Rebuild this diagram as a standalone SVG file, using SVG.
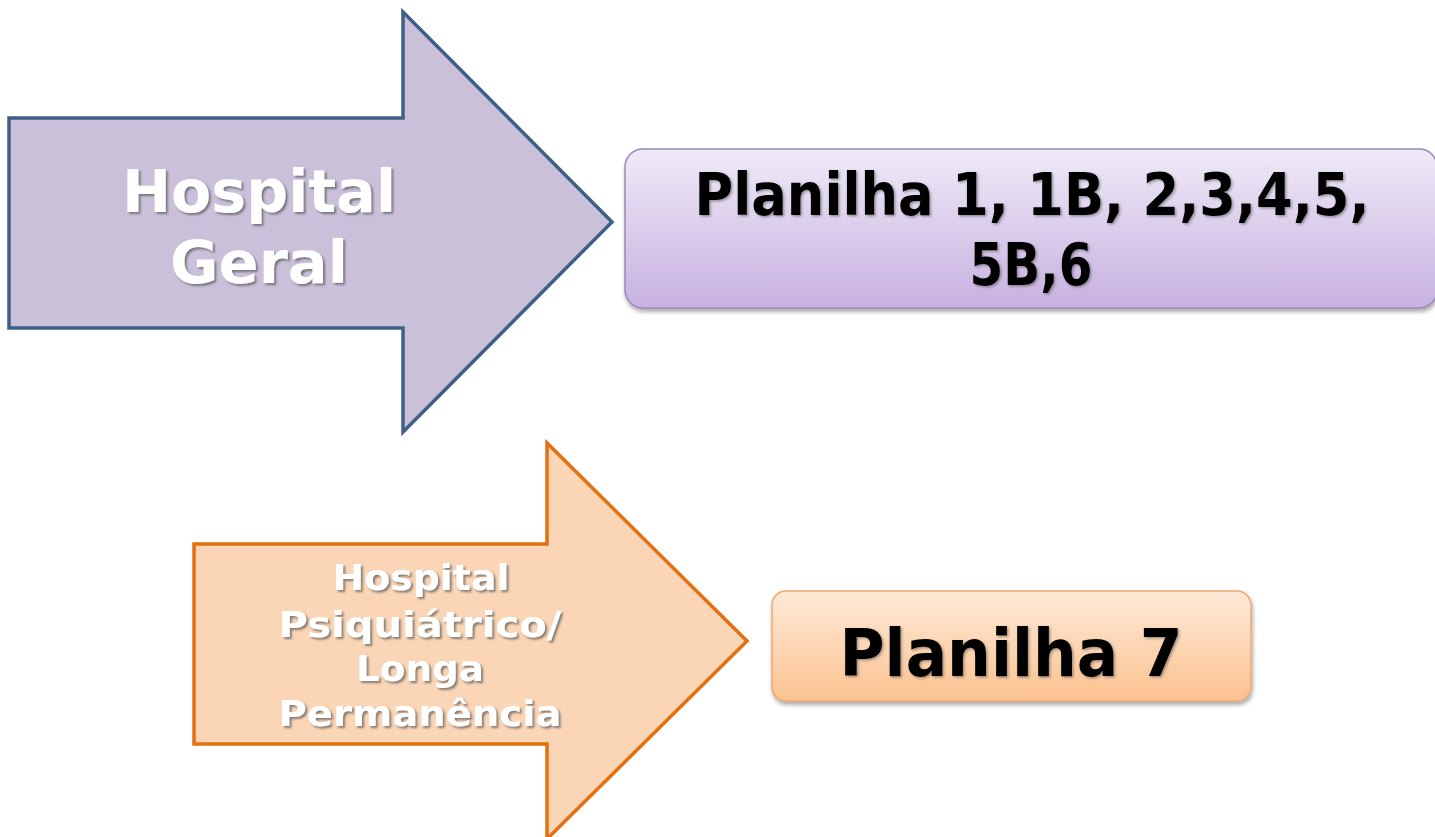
<svg xmlns="http://www.w3.org/2000/svg" width="1435" height="837" viewBox="0 0 1435 837">
<defs>
<linearGradient id="gPurple" x1="0" y1="0" x2="0" y2="1">
<stop offset="0" stop-color="#efeaf7"/>
<stop offset="1" stop-color="#c7b1e0"/>
</linearGradient>
<linearGradient id="gOrange" x1="0" y1="0" x2="0" y2="1">
<stop offset="0" stop-color="#fee9d8"/>
<stop offset="1" stop-color="#fbc28f"/>
</linearGradient>
<filter id="boxShadow" x="-5%" y="-10%" width="110%" height="130%">
<feDropShadow dx="1" dy="3" stdDeviation="2" flood-color="#000" flood-opacity="0.35"/>
</filter>
<filter id="txtShadow" x="-5%" y="-10%" width="115%" height="130%">
<feDropShadow dx="2" dy="2" stdDeviation="1.2" flood-color="#555" flood-opacity="0.7"/>
</filter>
<filter id="txtShadowDark" x="-5%" y="-10%" width="115%" height="130%">
<feDropShadow dx="1.5" dy="1.5" stdDeviation="1" flood-color="#444" flood-opacity="0.5"/>
</filter>
</defs>
<style>
.lbl { font-family: "DejaVu Sans", Verdana, sans-serif; font-weight: bold; text-anchor: middle; }
.white { fill: #ffffff; filter: url(#txtShadow); }
.black { fill: #000000; filter: url(#txtShadowDark); }
</style>
<rect width="1435" height="837" fill="#ffffff"/>

<g id="arrow-hospital-geral">
<polygon points="9,118 403,118 403,12 612,222 403,432 403,328 9,328" fill="#cbc0da" stroke="#3f5f86" stroke-width="3.5" stroke-linejoin="miter"/>
<text class="lbl white" x="259" y="212" font-size="58" textLength="274" lengthAdjust="spacingAndGlyphs">Hospital</text>
<text class="lbl white" x="259" y="283" font-size="58" textLength="178" lengthAdjust="spacingAndGlyphs">Geral</text>
</g>

<g id="box-planilha-1-6">
<rect x="625" y="149" width="812" height="159" rx="18" ry="18" fill="url(#gPurple)" stroke="#9a89b6" stroke-width="1.5" filter="url(#boxShadow)"/>
<text class="lbl black" x="1032" y="215" font-size="58" textLength="675" lengthAdjust="spacingAndGlyphs">Planilha 1, 1B, 2,3,4,5,</text>
<text class="lbl black" x="1031" y="285" font-size="58" textLength="123" lengthAdjust="spacingAndGlyphs">5B,6</text>
</g>

<g id="arrow-hospital-psiquiatrico">
<polygon points="194,544 547,544 547,443 747,641 547,839 547,744 194,744" fill="#fad5b6" stroke="#e4700f" stroke-width="3.5" stroke-linejoin="miter"/>
<text class="lbl white" x="421" y="590" font-size="35" textLength="177" lengthAdjust="spacingAndGlyphs">Hospital</text>
<text class="lbl white" x="420" y="637" font-size="35" textLength="283" lengthAdjust="spacingAndGlyphs">Psiquiátrico/</text>
<text class="lbl white" x="420" y="681" font-size="35" textLength="128" lengthAdjust="spacingAndGlyphs">Longa</text>
<text class="lbl white" x="420" y="726" font-size="35" textLength="283" lengthAdjust="spacingAndGlyphs">Permanência</text>
</g>

<g id="box-planilha-7">
<rect x="772" y="591" width="479" height="110" rx="14" ry="14" fill="url(#gOrange)" stroke="#f0a871" stroke-width="1.5" filter="url(#boxShadow)"/>
<text class="lbl black" x="1011" y="676" font-size="66" textLength="343" lengthAdjust="spacingAndGlyphs">Planilha 7</text>
</g>

<g id="connectors"></g>
</svg>
